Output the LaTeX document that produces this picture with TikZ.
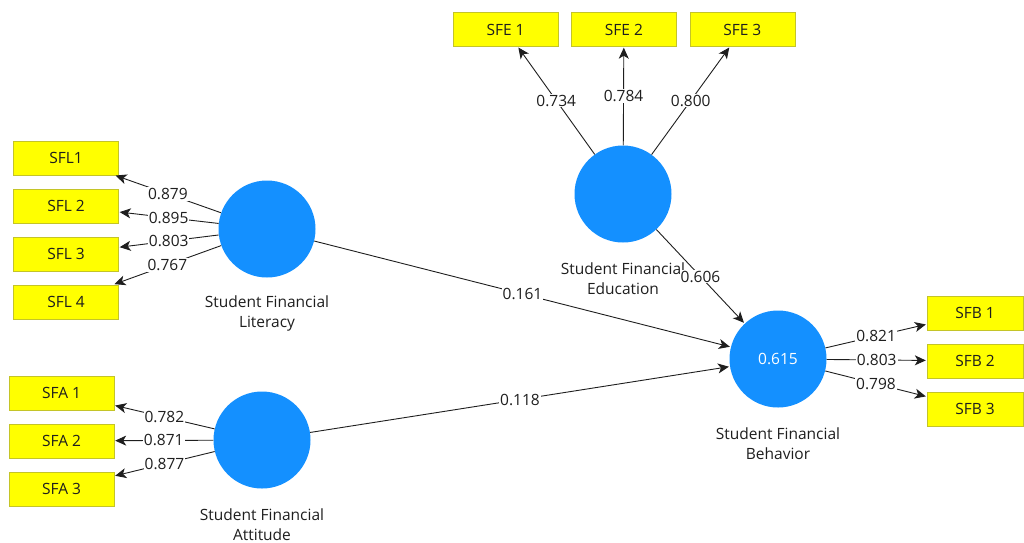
\documentclass[tikz,border=0pt]{standalone}
\usepackage{fontspec}
\setmainfont{Open Sans}
\usepackage{tikz}
\usetikzlibrary{arrows.meta,positioning}

\definecolor{lvblue}{RGB}{20,144,255}
\definecolor{indyellow}{RGB}{255,255,0}
\definecolor{indborder}{RGB}{196,196,40}
\definecolor{pathgray}{RGB}{30,30,30}

\begin{document}
\begin{tikzpicture}[x=1pt,y=-1pt,node distance=13.5pt,>={Stealth[length=11pt,width=10pt,inset=3pt]}]
\tikzstyle{latent}=[circle, fill=lvblue, minimum size=97pt, inner sep=0pt, text=white, font=\fontsize{15.5}{18}\selectfont]
\tikzstyle{ind}=[draw=indborder, fill=indyellow, minimum width=105pt, minimum height=34pt, inner sep=0pt, text=pathgray, font=\fontsize{15.5}{18}\selectfont]
\tikzstyle{caption}=[align=center, inner sep=0pt, text=pathgray, font=\fontsize{15.5}{20.5}\selectfont]
\tikzstyle{coef}=[fill=white, inner sep=1pt, text=pathgray, font=\fontsize{15.5}{18}\selectfont]
\tikzstyle{path}=[draw=pathgray, line width=0.9pt, shorten >=1pt]
\useasboundingbox (0,0) rectangle (1024,542);

% latent variables
\node[latent] (sfl) at (267,229) {};
\node[latent] (sfa) at (262,440) {};
\node[latent] (sfe) at (623,194) {};
\node[latent] (sfb) at (778,359) {0.615};

\node[caption] at ([yshift=-84.5pt]sfl.center) {Student Financial\\Literacy};
\node[caption] at ([yshift=-84.5pt]sfa.center) {Student Financial\\Attitude};
\node[caption] at ([yshift=-84.5pt]sfe.center) {Student Financial\\Education};
\node[caption] at ([yshift=-84.5pt]sfb.center) {Student Financial\\Behavior};

% indicators
\node[ind] (sfl1) at (66,158) {SFL1};
\node[ind, below=of sfl1] (sfl2) {SFL 2};
\node[ind, below=of sfl2] (sfl3) {SFL 3};
\node[ind, below=of sfl3] (sfl4) {SFL 4};

\node[ind] (sfa1) at (61.5,393) {SFA 1};
\node[ind, below=of sfa1] (sfa2) {SFA 2};
\node[ind, below=of sfa2] (sfa3) {SFA 3};

\node[ind] (sfe1) at (505.5,29.5) {SFE 1};
\node[ind, right=13pt of sfe1] (sfe2) {SFE 2};
\node[ind, right=13pt of sfe2] (sfe3) {SFE 3};

\node[ind, minimum width=96pt] (sfb1) at (975,313) {SFB 1};
\node[ind, minimum width=96pt, below=of sfb1] (sfb2) {SFB 2};
\node[ind, minimum width=96pt, below=of sfb2] (sfb3) {SFB 3};

% outer loadings
\draw[path,->] (sfl) -- (sfl1) node[midway, coef]{0.879};
\draw[path,->] (sfl) -- (sfl2) node[midway, coef]{0.895};
\draw[path,->] (sfl) -- (sfl3) node[midway, coef]{0.803};
\draw[path,->] (sfl) -- (sfl4) node[midway, coef]{0.767};

\draw[path,->] (sfa) -- (sfa1) node[midway, coef]{0.782};
\draw[path,->] (sfa) -- (sfa2) node[midway, coef]{0.871};
\draw[path,->] (sfa) -- (sfa3) node[midway, coef]{0.877};

\draw[path,->] (sfe) -- (sfe1) node[midway, coef]{0.734};
\draw[path,->] (sfe) -- (sfe2) node[midway, coef]{0.784};
\draw[path,->] (sfe) -- (sfe3) node[midway, coef]{0.800};

\draw[path,->] (sfb) -- (sfb1) node[midway, coef]{0.821};
\draw[path,->] (sfb) -- (sfb2) node[midway, coef]{0.803};
\draw[path,->] (sfb) -- (sfb3) node[midway, coef]{0.798};

% path coefficients
\draw[path,->] (sfl) -- (sfb) node[midway, coef]{0.161};
\draw[path,->] (sfa) -- (sfb) node[midway, coef]{0.118};
\draw[path,->] (sfe) -- (sfb) node[midway, coef]{0.606};
\end{tikzpicture}
\end{document}
